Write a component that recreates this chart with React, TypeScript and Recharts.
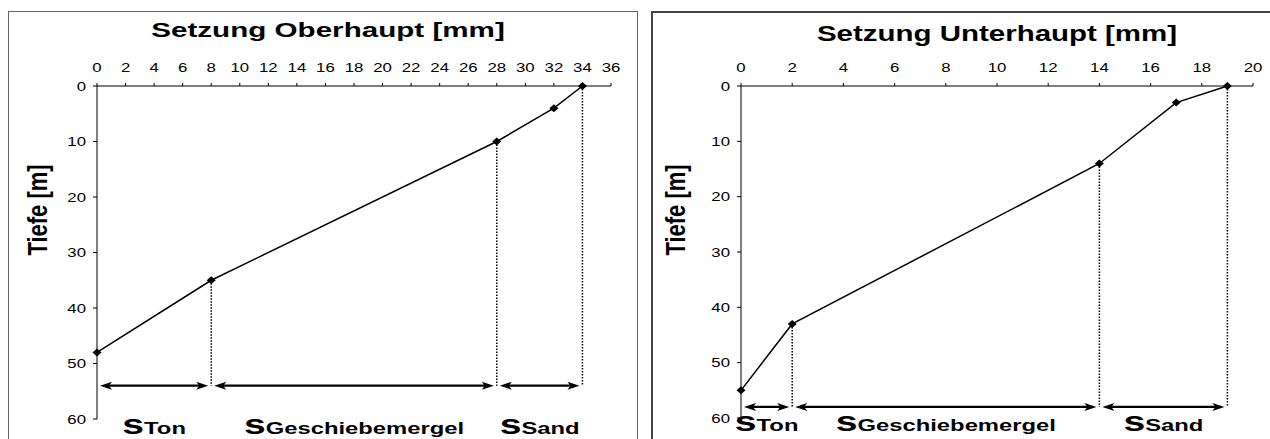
import React from 'react';
import { LineChart, Line, XAxis, YAxis, ReferenceLine, ReferenceDot } from 'recharts';

// Oberhaupt: Setzung [mm] und Tiefe [m]
const oberSetzung = [0, 8, 28, 32, 34];
const oberTiefe = [48, 35, 10, 4, 0];
const oberGrenzen = [0, 8, 28, 34];
const oberPfeilTiefe = 54;
const oberTicks = [0, 2, 4, 6, 8, 10, 12, 14, 16, 18, 20, 22, 24, 26, 28, 30, 32, 34, 36];

// Unterhaupt
const unterSetzung = [0, 2, 14, 17, 19];
const unterTiefe = [55, 43, 14, 3, 0];
const unterGrenzen = [0, 2, 14, 19];
const unterPfeilTiefe = 58;
const unterTicks = [0, 2, 4, 6, 8, 10, 12, 14, 16, 18, 20];

const tiefeTicks = [0, 10, 20, 30, 40, 50, 60];
const schichten = ['Ton', 'Geschiebemergel', 'Sand'];

const FONT = '"Liberation Sans", Arial, Helvetica, sans-serif';
const SX = 1.4;

const XTick = (props: any) => {
  const { x, y, payload } = props;
  return (
    <g transform={`translate(${x},${y})`}>
      <text transform={`scale(${SX},1)`} textAnchor="middle" fontSize={12} fontFamily={FONT} fill="#000">
        {payload.value}
      </text>
    </g>
  );
};

const YTick = (props: any) => {
  const { x, y, payload } = props;
  return (
    <g transform={`translate(${x},${y})`}>
      <text transform={`scale(${SX},1)`} textAnchor="end" dy={4.5} fontSize={12} fontFamily={FONT} fill="#000">
        {payload.value}
      </text>
    </g>
  );
};

const Diamond = (props: any) => {
  const { cx, cy, index } = props;
  if (cx == null || cy == null) return <g key={index} />;
  return (
    <polygon
      key={index}
      points={`${cx},${cy - 4} ${cx + 4.5},${cy} ${cx},${cy + 4} ${cx - 4.5},${cy}`}
      fill="#000"
    />
  );
};

// double headed arrow between two boundaries
const Arrow = (props: any) => {
  const { x1, y1, x2 } = props;
  const a = Math.min(x1, x2) + 3;
  const b = Math.max(x1, x2) - 3;
  const L = 12;
  const H = 4;
  const y = y1;
  return (
    <g>
      <line x1={a + 6} y1={y} x2={b - 6} y2={y} stroke="#000" strokeWidth={2.2} />
      <polygon points={`${a},${y} ${a + L},${y - H} ${a + L - 3},${y} ${a + L},${y + H}`} fill="#000" />
      <polygon points={`${b},${y} ${b - L},${y - H} ${b - L + 3},${y} ${b - L},${y + H}`} fill="#000" />
    </g>
  );
};

const layerLabel = (name: string, dy: number) => (props: any) => {
  const { cx, cy } = props;
  return (
    <g transform={`translate(${cx},${cy + dy}) scale(${SX},1)`}>
      <text textAnchor="middle" fontFamily={FONT} fontWeight="bold" fill="#000">
        <tspan fontSize={28}>s</tspan>
        <tspan fontSize={17}>{name}</tspan>
      </text>
    </g>
  );
};

interface PanelProps {
  title: string;
  setzung: number[];
  tiefe: number[];
  grenzen: number[];
  pfeilTiefe: number;
  ticks: number[];
  width: number;
  height: number;
  margin: { top: number; right: number; bottom: number; left: number };
  titleX: number;
  titleY: number;
  titleSize: number;
  titleScale: number;
  yLabelX: number;
  yLabelY: number;
  labelDy: number;
}

function Panel(p: PanelProps) {
  const data = p.setzung.map((s, i) => ({ s, depth: p.tiefe[i] }));
  const xMax = p.ticks[p.ticks.length - 1];

  return (
    <div style={{ position: 'relative', width: p.width, height: p.height }}>
      <LineChart width={p.width} height={p.height} data={data} margin={p.margin}>
        <XAxis
          dataKey="s"
          type="number"
          orientation="top"
          domain={[0, xMax]}
          ticks={p.ticks}
          interval={0}
          height={30}
          tickSize={3}
          tickMargin={11}
          tick={<XTick />}
          axisLine={{ stroke: '#000' }}
          tickLine={{ stroke: '#000' }}
        />
        <YAxis
          type="number"
          reversed
          domain={[0, 60]}
          ticks={tiefeTicks}
          interval={0}
          width={40}
          tickSize={4}
          tickMargin={7}
          tick={<YTick />}
          axisLine={{ stroke: '#000' }}
          tickLine={{ stroke: '#000' }}
        />
        {p.grenzen.slice(1).map((g) => (
          <ReferenceLine
            key={`dot-${g}`}
            segment={[
              { x: g, y: p.tiefe[p.setzung.indexOf(g)] },
              { x: g, y: p.pfeilTiefe },
            ]}
            stroke="#000"
            strokeWidth={1.5}
            strokeDasharray="1.5 1.5"
          />
        ))}
        {schichten.map((name, i) => (
          <ReferenceLine
            key={`arrow-${name}`}
            segment={[
              { x: p.grenzen[i], y: p.pfeilTiefe },
              { x: p.grenzen[i + 1], y: p.pfeilTiefe },
            ]}
            shape={Arrow}
          />
        ))}
        {schichten.map((name, i) => (
          <ReferenceDot
            key={`label-${name}`}
            x={(p.grenzen[i] + p.grenzen[i + 1]) / 2}
            y={60}
            r={0}
            ifOverflow="visible"
            shape={layerLabel(name, p.labelDy)}
          />
        ))}
        <Line
          dataKey="depth"
          stroke="#000"
          strokeWidth={1.5}
          dot={Diamond}
          activeDot={false}
          isAnimationActive={false}
        />
      </LineChart>
      <svg
        width={p.width}
        height={p.height}
        style={{ position: 'absolute', left: 0, top: 0, pointerEvents: 'none' }}
      >
        <g transform={`translate(${p.titleX},${p.titleY}) scale(${p.titleScale},1)`}>
          <text textAnchor="middle" fontFamily={FONT} fontWeight="bold" fontSize={p.titleSize} fill="#000">
            {p.title}
          </text>
        </g>
        <g transform={`translate(${p.yLabelX},${p.yLabelY}) scale(1.25,1) rotate(-90)`}>
          <text textAnchor="middle" dy={8} fontFamily={FONT} fontWeight="bold" fontSize={22} fill="#000">
            Tiefe [m]
          </text>
        </g>
      </svg>
    </div>
  );
}

export default function App() {
  return (
    <div style={{ position: 'fixed', left: 0, top: 0, width: 1270, height: 439, overflow: 'hidden', background: '#fff' }}>
      <div
        style={{
          position: 'absolute',
          left: 8,
          top: 11,
          width: 630,
          height: 440,
          boxSizing: 'border-box',
          border: '1px solid #666',
          borderBottom: 'none',
        }}
      >
        <Panel
          title="Setzung Oberhaupt [mm]"
          setzung={oberSetzung}
          tiefe={oberTiefe}
          grenzen={oberGrenzen}
          pfeilTiefe={oberPfeilTiefe}
          ticks={oberTicks}
          width={628}
          height={430}
          margin={{ top: 44, right: 26, bottom: 23, left: 48 }}
          titleX={319}
          titleY={25}
          titleSize={21}
          titleScale={1.41}
          yLabelX={28}
          yLabelY={198}
          labelDy={15}
        />
      </div>
      <div
        style={{
          position: 'absolute',
          left: 651,
          top: 11,
          width: 630,
          height: 440,
          boxSizing: 'border-box',
          borderTop: '2px solid #444',
          borderLeft: '2px solid #444',
        }}
      >
        <Panel
          title="Setzung Unterhaupt [mm]"
          setzung={unterSetzung}
          tiefe={unterTiefe}
          grenzen={unterGrenzen}
          pfeilTiefe={unterPfeilTiefe}
          ticks={unterTicks}
          width={617}
          height={430}
          margin={{ top: 43, right: 17, bottom: 25, left: 48 }}
          titleX={344}
          titleY={28}
          titleSize={22}
          titleScale={1.34}
          yLabelX={22}
          yLabelY={197}
          labelDy={13}
        />
      </div>
    </div>
  );
}
